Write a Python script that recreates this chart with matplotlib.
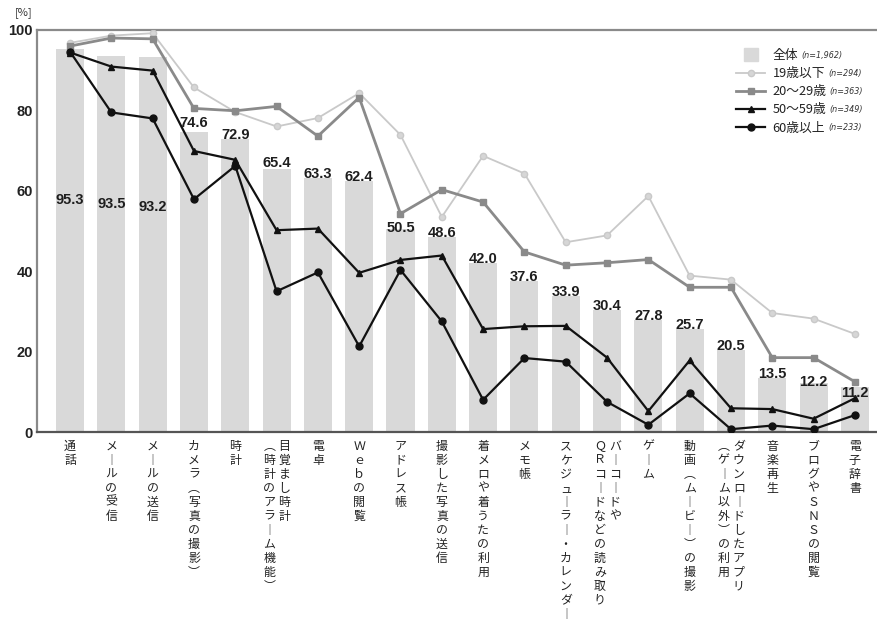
import matplotlib
matplotlib.use("Agg")
import matplotlib.pyplot as plt
import matplotlib.patches as mpatches
from matplotlib.lines import Line2D
from matplotlib.legend_handler import HandlerPatch
import numpy as np

plt.rcParams['font.family'] = ['Noto Sans CJK JP', 'DejaVu Sans']

# ---------------- data ----------------
categories = [
    "通話", "メールの受信", "メールの送信", "カメラ(写真の撮影)", "時計",
    "目覚まし時計\n(時計のアラーム機能)", "電卓", "Ｗｅｂの閲覧", "アドレス帳",
    "撮影した写真の送信", "着メロや着うたの利用", "メモ帳",
    "スケジューラー・カレンダー", "バーコードや\nＱＲコードなどの読み取り", "ゲーム",
    "動画(ムービー)の撮影", "ダウンロードしたアプリ\n(ゲーム以外)の利用", "音楽再生",
    "ブログやＳＮＳの閲覧", "電子辞書",
]
total = [95.3, 93.5, 93.2, 74.6, 72.9, 65.4, 63.3, 62.4, 50.5, 48.6,
         42.0, 37.6, 33.9, 30.4, 27.8, 25.7, 20.5, 13.5, 12.2, 11.2]
age_19 = [96.8, 98.6, 99.2, 85.7, 79.6, 76.0, 78.1, 84.3, 73.9, 53.5,
          68.7, 64.3, 47.2, 48.9, 58.7, 38.9, 37.9, 29.6, 28.2, 24.4]
age_20 = [96.0, 98.0, 97.8, 80.5, 79.9, 81.0, 73.6, 83.2, 54.3, 60.3,
          57.2, 44.8, 41.5, 42.1, 42.9, 36.0, 36.0, 18.5, 18.5, 12.5]
age_50 = [94.4, 90.9, 89.9, 69.9, 67.7, 50.2, 50.6, 39.6, 42.8, 43.9,
          25.6, 26.3, 26.4, 18.5, 5.2, 17.8, 5.9, 5.7, 3.3, 8.4]
age_60 = [94.6, 79.5, 78.0, 57.9, 66.2, 35.0, 39.7, 21.3, 40.3, 27.5,
          8.0, 18.4, 17.5, 7.5, 1.8, 9.6, 0.7, 1.6, 0.7, 4.2]
series_names = ["全体", "19歳以下", "20〜29歳", "50〜59歳", "60歳以上"]
series_n = ["(n=1,962)", "(n=294)", "(n=363)", "(n=349)", "(n=233)"]
y_ticks = [0, 20, 40, 60, 80, 100]

# vertical offsets (points) of the value labels relative to bar tops
label_offsets = [-111.6, -109.4, -110.9, 3.6, 0, 1.4, 0, 0, -2.5, 0,
                 0, 0, 0, 0, 0, 0, 0, 0, -2.2, -7.2]

# ---------------- figure ----------------
fig = plt.figure(figsize=(8.78, 6.23), dpi=100)
ax = fig.add_axes([37 / 878, 1 - 432 / 623, 1 - 37 / 878, (432 - 30) / 623])

x = np.arange(len(categories))
ax.bar(x, total, width=0.68, color="#d9d9d9", zorder=1)

ax.plot(x, age_19, color="#c9c9c9", lw=1.3, marker="o", ms=4.5,
        mfc="#d6d6d6", mec="#c9c9c9", zorder=3)
ax.plot(x, age_20, color="#8a8a8a", lw=2.0, marker="s", ms=5,
        mfc="#8a8a8a", mec="#8a8a8a", zorder=4)
ax.plot(x, age_50, color="#111111", lw=1.6, marker="^", ms=4.5,
        mfc="#111111", mec="#111111", zorder=5)
ax.plot(x, age_60, color="#111111", lw=1.6, marker="o", ms=5,
        mfc="#111111", mec="#111111", zorder=6)

for i, v in enumerate(total):
    ax.annotate(f"{v:.1f}", xy=(i, v), xytext=(0, label_offsets[i]),
                textcoords="offset points", ha="center", va="baseline",
                fontsize=10.5, fontweight="bold", color="#1e1e1e",
                family=["Liberation Sans", "DejaVu Sans"], zorder=7)

ax.set_xlim(-0.80, 19.56)
ax.set_ylim(0, 100)
ax.set_yticks(y_ticks)
ax.set_yticklabels([str(t) for t in y_ticks], fontsize=10.5, fontweight="bold",
                   color="#222222", family=["Liberation Sans", "DejaVu Sans"])
ax.tick_params(axis="y", length=0, pad=3)
ax.set_xticks([])

for s in ["top", "left"]:
    ax.spines[s].set_color("#8a8a8a")
    ax.spines[s].set_linewidth(1.6)
ax.spines["bottom"].set_color("#555555")
ax.spines["bottom"].set_linewidth(1.6)
ax.spines["right"].set_visible(False)

fig.text(15 / 878, 1 - 13 / 623, "[%]", fontsize=8, va="center", ha="left",
         color="#333333")

# ---------------- vertical category labels ----------------
vmap = {"ー": "︱", "(": "︵", ")": "︶"}


def vertical(s):
    return "\n".join(vmap.get(c, c) for c in s)


for i, lab in enumerate(categories):
    cols = lab.split("\n")
    if len(cols) == 1:
        offs = [0]
    else:
        offs = [5.6, -5.2]
    for col, dx in zip(cols, offs):
        ax.annotate(vertical(col), xy=(i, 0), xycoords=("data", "axes fraction"),
                    xytext=(dx, -5.5), textcoords="offset points",
                    ha="center", va="top", fontsize=8.6, linespacing=1.1,
                    color="#222222", annotation_clip=False)

# ---------------- legend ----------------
def square_patch(legend, orig_handle, xdescent, ydescent, width, height, fontsize):
    s = height * 1.4
    return mpatches.Rectangle((-xdescent + (width - s) / 2, -ydescent + (height - s) / 2),
                              s * 1.1, s)


handles = [
    mpatches.Patch(color="#d9d9d9"),
    Line2D([], [], color="#c9c9c9", lw=1.3, marker="o", ms=4.5, mfc="#d6d6d6", mec="#c9c9c9"),
    Line2D([], [], color="#8a8a8a", lw=2.0, marker="s", ms=5),
    Line2D([], [], color="#111111", lw=1.6, marker="^", ms=4.5),
    Line2D([], [], color="#111111", lw=1.6, marker="o", ms=5),
]
leg = fig.legend(handles, series_names, loc="upper left",
                 bbox_to_anchor=(736 / 878, 1 - 49 / 623), frameon=False,
                 fontsize=9.2, handlelength=2.3, handletextpad=0.55,
                 labelspacing=0.4, borderpad=0, borderaxespad=0,
                 handler_map={mpatches.Patch: HandlerPatch(patch_func=square_patch)})
for t in leg.get_texts():
    t.set_color("#222222")

fig.canvas.draw()
renderer = fig.canvas.get_renderer()
for t, n in zip(leg.get_texts(), series_n):
    bb = t.get_window_extent(renderer)
    xc = bb.x1 + 3
    yc = (bb.y0 + bb.y1) / 2
    fig.text(xc / fig.bbox.width, yc / fig.bbox.height, n, fontsize=5.8,
             style="italic", va="center", ha="left", color="#333333",
             family=["DejaVu Sans"])

fig.savefig("out.png", dpi=100)
